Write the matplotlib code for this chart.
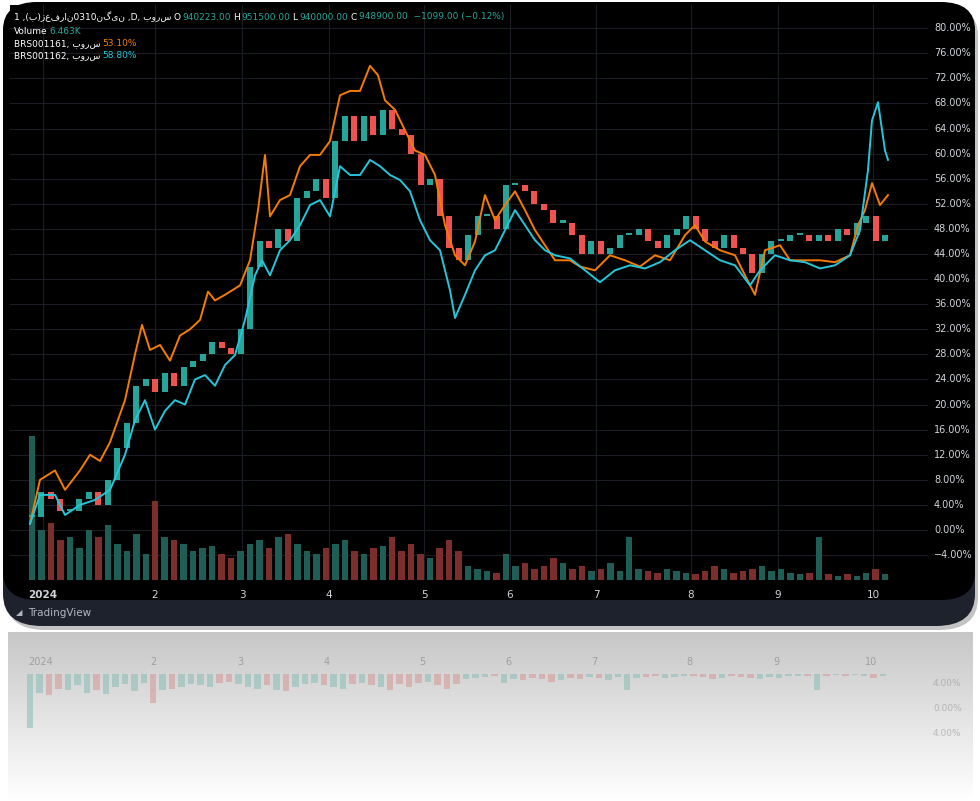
import numpy as np
import matplotlib.pyplot as plt
from matplotlib.patches import FancyBboxPatch

plt.rcParams['font.family'] = ['DejaVu Sans']

# candle closes (% change), one every ~2 trading days
closes = [2, 6, 5, 3, 3, 5, 6, 4, 8, 13, 17, 23, 24, 22, 25, 23, 26, 27, 28, 30, 29, 28, 32, 42, 46, 45,
          48, 46, 53, 54, 56, 53, 62, 66, 62, 66, 63, 67, 64, 63, 60, 55, 56, 50, 45, 43, 47, 50, 50, 48,
          55, 55, 54, 52, 51, 49, 49, 47, 44, 46, 44, 45, 47, 47, 48, 46, 45, 47, 48, 50, 48, 46, 45, 47,
          45, 44, 41, 44, 46, 46, 47, 47, 46, 47, 46, 48, 47, 49, 50, 46, 47]
volume = [100, 35, 40, 28, 30, 22, 35, 30, 38, 25, 20, 32, 18, 55, 30, 28, 25, 20, 22, 24, 18, 15, 20, 25,
          28, 22, 30, 32, 25, 20, 18, 22, 25, 28, 20, 18, 22, 24, 30, 20, 25, 18, 15, 22, 28, 20, 10, 8, 6,
          5, 18, 10, 12, 8, 10, 15, 12, 8, 10, 6, 8, 12, 6, 30, 8, 6, 5, 8, 6, 5, 4, 6, 10, 8, 5, 6, 8, 10,
          6, 8, 5, 4, 5, 30, 4, 3, 4, 3, 5, 8, 4]
# line series: position along the time axis and value (%)
orange_t = [30, 40, 55, 65, 80, 90, 100, 110, 125, 135, 142, 150, 160, 170, 180, 190, 200, 208, 215, 225,
            240, 250, 258, 265, 270, 280, 290, 300, 310, 320, 330, 340, 350, 360, 370, 378, 385, 395, 405,
            415, 425, 435, 445, 455, 465, 475, 485, 495, 505, 515, 525, 535, 545, 555, 570, 580, 595, 610,
            625, 640, 655, 670, 685, 695, 705, 720, 735, 745, 755, 765, 780, 790, 805, 820, 835, 850, 858,
            865, 872, 880, 888]
orange_v = [1, 8, 9.5, 6.4, 9.5, 12, 11, 14, 20.7, 28, 32.7, 28.7, 29.5, 27, 31, 32, 33.5, 38, 36.6, 37.5,
            39, 43, 51, 59.8, 50, 52.6, 53.4, 58, 59.8, 59.8, 62, 69.3, 70, 70, 74, 72.5, 68.5, 67, 63.7,
            60.5, 59.8, 56.6, 48.6, 43.8, 42.2, 46, 53.4, 49.4, 51.8, 54, 51, 47.8, 45.4, 43, 43, 42, 41.4,
            43.8, 43, 42, 43.8, 43, 47, 48.6, 46, 44.6, 43.8, 40.6, 37.5, 44.6, 45.4, 43, 43, 43, 42.7, 43.8,
            48.6, 51, 55.3, 51.8, 53.4]
cyan_t = [30, 40, 55, 65, 80, 95, 110, 125, 135, 145, 155, 165, 175, 185, 195, 205, 215, 225, 235, 245,
          255, 262, 270, 280, 290, 300, 310, 320, 330, 340, 350, 360, 370, 380, 390, 400, 410, 420, 430,
          440, 450, 455, 465, 475, 485, 495, 505, 515, 525, 535, 545, 555, 570, 585, 600, 615, 630, 645,
          660, 675, 690, 705, 720, 735, 750, 760, 775, 790, 805, 820, 835, 850, 860, 868, 872, 878, 885, 888]
cyan_v = [1, 5.6, 5.6, 2.4, 4, 4.8, 6.4, 12, 17.5, 20.7, 16, 19, 20.7, 20, 24, 24.7, 23, 26.3, 27.9, 33.5,
          40.6, 43, 40.6, 44.6, 46.2, 48.6, 51.8, 52.6, 50, 58, 56.6, 56.6, 59, 58, 56.6, 55.8, 54, 49.4,
          46.2, 44.6, 38.2, 33.8, 37.5, 41.4, 43.8, 44.6, 47.8, 51, 48.6, 46.2, 44.6, 43.8, 43.3, 41.4,
          39.5, 41.4, 42.2, 41.7, 42.7, 44.6, 46.2, 44.6, 43, 42.2, 39, 41.4, 43.8, 43, 42.7, 41.7, 42.2,
          43.8, 47.8, 57.4, 65.3, 68.2, 60.5, 59]
month_labels = ['2024', '2', '3', '4', '5', '6', '7', '8', '9', '10']
month_pos = [43, 155, 242, 329, 424, 510, 596, 691, 778, 873]
pct_ticks = list(range(-4, 81, 4))

W, H = 980, 801
fig = plt.figure(figsize=(9.8, 8.01), dpi=100, facecolor='white')
renderer = fig.canvas.get_renderer()

def fx(px):
    return px / W

def fy(py):
    return 1 - py / H

def text_row(x, y, parts, fs=6.5):
    # place coloured pieces one after another
    for s, col in parts:
        t = fig.text(fx(x), fy(y), s, color=col, fontsize=fs, va='center')
        x += t.get_window_extent(renderer).width + 2

# reflection below the panel
rax = fig.add_axes([fx(8), fy(800), fx(965), fy(632) - fy(800)], zorder=-5)
rax.set_xlim(10, 975)
rax.set_ylim(0, 170)
rax.invert_yaxis()
grad = np.linspace(0.78, 1.0, 100)[:, None]
rax.imshow(np.dstack([grad, grad, grad]), extent=[10, 975, 170, 0], aspect='auto', zorder=0, vmin=0, vmax=1)
cpos = 32 + 9.48 * np.arange(len(closes))
opens = [closes[0]] + closes[:-1]
ups = [c >= o for c, o in zip(closes, opens)]
rcol = ['#8fbfb9' if u else '#d49c99' for u in ups]
rax.bar(cpos, [v * 0.55 for v in volume], bottom=42, width=6.5, color=rcol, alpha=0.6, zorder=1)
for lab, p in zip(month_labels, month_pos):
    rax.text(p, 30, lab, color='#8a8a8a', fontsize=7, ha='center', va='center', alpha=0.7)
for i, lab in enumerate(['4.00%', '0.00%', '4.00%']):
    rax.text(935, 55 + i * 25, lab, color='#999999', fontsize=6.5, alpha=0.6)
rax.axis('off')

# main dark panel with shadow
fig.patches.append(FancyBboxPatch((fx(6), fy(630)), fx(972), fy(4) - fy(630),
                                  boxstyle='round,pad=0,rounding_size=0.04', transform=fig.transFigure,
                                  facecolor='#888888', edgecolor='none', alpha=0.5, zorder=-4))
fig.patches.append(FancyBboxPatch((fx(3), fy(626)), fx(972), fy(2) - fy(626),
                                  boxstyle='round,pad=0,rounding_size=0.04', transform=fig.transFigure,
                                  facecolor='#1e222d', edgecolor='none', zorder=-3))
fig.patches.append(FancyBboxPatch((fx(3), fy(600)), fx(972), fy(2) - fy(600),
                                  boxstyle='round,pad=0,rounding_size=0.035', transform=fig.transFigure,
                                  facecolor='#000000', edgecolor='none', zorder=-2))
fig.text(fx(28), fy(613), 'TradingView', color='#b2b5be', fontsize=7.5, va='center')
fig.text(fx(16), fy(613), '◢', color='#b2b5be', fontsize=6, va='center')

ax = fig.add_axes([fx(10), fy(580), fx(918), fy(5) - fy(580)])
ax.set_xlim(10, 928)
ax.set_ylim(-7.97, 83.7)

# volume on its own scale, under the price marks
vax = ax.twinx()
vax.set_ylim(0, 100 / 0.25)
vcol = ['#1e5e57' if u else '#7b2e2c' for u in ups]
vax.bar(cpos, volume, width=6.5, color=vcol, zorder=1)
vax.axis('off')
vax.set_zorder(1)
ax.set_zorder(2)
ax.patch.set_visible(False)
bg = fig.add_axes(ax.get_position(), zorder=0)
bg.set_facecolor('black')
bg.set_xlim(10, 928)
bg.set_ylim(-7.97, 83.7)
for t in pct_ticks:
    bg.axhline(t, color='#1a1d24', lw=0.8)
for p in month_pos:
    bg.axvline(p, color='#1a1d24', lw=0.8)
bg.set_xticks([])
bg.set_yticks([])
for s in bg.spines.values():
    s.set_visible(False)

for x, o, c, u in zip(cpos, opens, closes, ups):
    col = '#26a69a' if u else '#ef5350'
    lo, hi = min(o, c), max(o, c)
    ax.bar(x, max(hi - lo, 0.4), bottom=lo, width=6, color=col, zorder=2)
ax.plot(orange_t, orange_v, color='#f57c00', lw=1.4, zorder=3)
ax.plot(cyan_t, cyan_v, color='#26c6da', lw=1.4, zorder=3)

ax.tick_params(length=0)
ax.set_xticks([])
ax.set_yticks([])
for s in ax.spines.values():
    s.set_visible(False)
for t in pct_ticks:
    lab = ('−%.2f%%' % -t) if t < 0 else '%.2f%%' % t
    ax.text(934, t, lab, color='#d1d4dc', fontsize=7, va='center', clip_on=False)
for lab, p in zip(month_labels, month_pos):
    ax.text(p, -10.3, lab, color='#d1d4dc', fontsize=7.5, ha='center', va='center',
            fontweight='bold' if lab == '2024' else 'normal', clip_on=False)

# legend lines
G = '#26a69a'
text_row(14, 17, [('1 ,(ب)زعفران0310نگین ,D, بورس', 'white'), ('O', 'white'), ('940223.00', G),
                  ('H', 'white'), ('951500.00', G), ('L', 'white'), ('940000.00', G),
                  ('C', 'white'), ('948900.00  −1099.00 (−0.12%)', G)])
text_row(14, 31, [('Volume', 'white'), ('6.463K', G)])
text_row(14, 44, [('BRS001161, بورس', 'white'), ('53.10%', '#f57c00')])
text_row(14, 56, [('BRS001162, بورس', 'white'), ('58.80%', '#26c6da')])

fig.savefig('out.png', dpi=100, facecolor='white')
